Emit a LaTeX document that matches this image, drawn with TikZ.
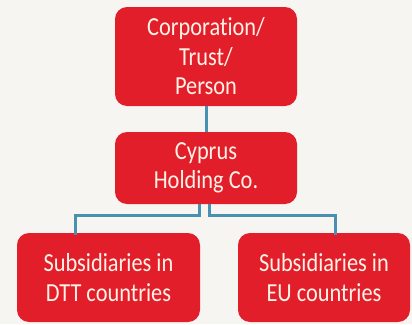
\documentclass[tikz,border=0pt]{standalone}
\usepackage{fontspec}
\setmainfont{Carlito}[FakeStretch=0.86, Ligatures=NoCommon]
\definecolor{bg}{HTML}{F7F5F2}
\definecolor{boxred}{HTML}{E31E2B}
\definecolor{linkblue}{HTML}{4A90B0}
\definecolor{txt}{HTML}{FFF2E6}
\begin{document}
\begin{tikzpicture}[x=1pt,y=-1pt,
  box/.style={fill=boxred, rounded corners=12pt, text=txt, align=center,
    font=\fontsize{26}{29.5}\selectfont, inner sep=0pt},
  link/.style={draw=linkblue, line width=3pt}]
\fill[bg] (0,0) rectangle (412,324);
\useasboundingbox (0,0) rectangle (412,324);
\node[box, minimum width=182pt, minimum height=99pt] (top) at (206,56.5) {Corporation/\\Trust/\\Person};
\node[box, minimum width=182pt, minimum height=72pt] (mid) at (206,168) {Cyprus\\Holding Co.};
\node[box, minimum width=183pt, minimum height=89pt] (bl) at (108.5,277.5) {Subsidiaries in\\DTT countries};
\node[box, minimum width=172pt, minimum height=89pt] (br) at (324,277.5) {Subsidiaries in\\EU countries};
\draw[link] (top.south) -- (mid.north);
\coordinate (bll) at (199,204);
\coordinate (brr) at (209,204);
\draw[link] (bll) |- (75,215) -- ([yshift=-2pt]bl.north -| 75,0);
\draw[link] (brr) |- (335,215) -- ([yshift=-2pt]br.north -| 335,0);
\end{tikzpicture}
\end{document}
